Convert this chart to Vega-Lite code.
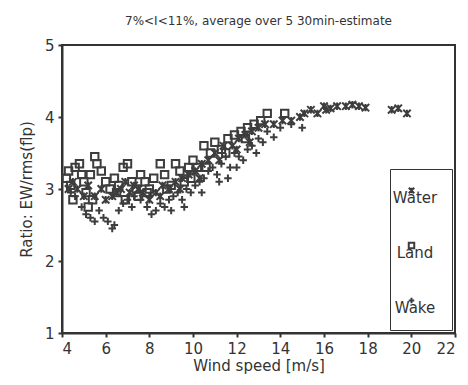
{
  "$schema": "https://vega.github.io/schema/vega-lite/v6.json",
  "width": 393,
  "height": 288,
  "autosize": "none",
  "padding": {"left": 62, "top": 45, "right": 13, "bottom": 52},
  "background": "white",
  "title": {"text": "7%<I<11%,  average over 5 30min-estimate", "font": "DejaVu Sans", "fontSize": 12, "fontWeight": "normal", "color": "#333", "offset": 10, "anchor": "middle"},
  "config": {
    "view": {"stroke": "#333", "strokeWidth": 2},
    "axis": {"grid": false, "domainColor": "#333", "domainWidth": 2, "tickColor": "#333", "tickWidth": 2, "tickSize": 4, "labelFont": "DejaVu Sans", "labelFontSize": 15, "labelColor": "#333", "titleFont": "DejaVu Sans", "titleFontSize": 15, "titleFontWeight": "normal", "titleColor": "#333"},
    "legend": {"symbolStrokeColor": "#3d3d3d", "symbolStrokeWidth": 2}
  },
  "data": {"values": [
    {"ws": 4.2, "r": 3.15, "type": "Land"}, {"ws": 4.3, "r": 3.25, "type": "Land"}, {"ws": 4.4, "r": 3.05, "type": "Land"}, {"ws": 4.6, "r": 3.3, "type": "Land"}, {"ws": 4.8, "r": 3.35, "type": "Land"}, {"ws": 4.9, "r": 3.2, "type": "Land"}, {"ws": 5.0, "r": 3.1, "type": "Land"}, {"ws": 5.1, "r": 2.95, "type": "Land"}, {"ws": 5.3, "r": 3.2, "type": "Land"}, {"ws": 5.5, "r": 3.45, "type": "Land"}, {"ws": 5.6, "r": 3.35, "type": "Land"}, {"ws": 5.8, "r": 3.25, "type": "Land"}, {"ws": 5.2, "r": 2.75, "type": "Land"}, {"ws": 5.4, "r": 2.85, "type": "Land"}, {"ws": 6.0, "r": 3.1, "type": "Land"}, {"ws": 6.2, "r": 3.0, "type": "Land"}, {"ws": 6.4, "r": 3.15, "type": "Land"}, {"ws": 6.6, "r": 3.05, "type": "Land"}, {"ws": 6.8, "r": 3.3, "type": "Land"}, {"ws": 7.0, "r": 3.35, "type": "Land"}, {"ws": 7.2, "r": 3.1, "type": "Land"}, {"ws": 7.4, "r": 3.0, "type": "Land"}, {"ws": 7.6, "r": 3.2, "type": "Land"}, {"ws": 7.8, "r": 3.1, "type": "Land"}, {"ws": 8.0, "r": 3.0, "type": "Land"}, {"ws": 8.2, "r": 3.15, "type": "Land"}, {"ws": 8.5, "r": 3.35, "type": "Land"}, {"ws": 8.7, "r": 3.2, "type": "Land"}, {"ws": 9.0, "r": 3.05, "type": "Land"}, {"ws": 9.2, "r": 3.35, "type": "Land"}, {"ws": 9.4, "r": 3.25, "type": "Land"}, {"ws": 9.6, "r": 3.1, "type": "Land"}, {"ws": 9.8, "r": 3.3, "type": "Land"}, {"ws": 10.0, "r": 3.4, "type": "Land"}, {"ws": 10.2, "r": 3.3, "type": "Land"}, {"ws": 10.5, "r": 3.6, "type": "Land"}, {"ws": 10.8, "r": 3.5, "type": "Land"}, {"ws": 11.0, "r": 3.65, "type": "Land"}, {"ws": 11.3, "r": 3.55, "type": "Land"}, {"ws": 11.6, "r": 3.7, "type": "Land"}, {"ws": 11.9, "r": 3.75, "type": "Land"}, {"ws": 12.2, "r": 3.8, "type": "Land"}, {"ws": 12.5, "r": 3.85, "type": "Land"}, {"ws": 12.8, "r": 3.9, "type": "Land"}, {"ws": 13.1, "r": 3.95, "type": "Land"}, {"ws": 13.4, "r": 4.05, "type": "Land"}, {"ws": 14.2, "r": 4.05, "type": "Land"}, {"ws": 6.9, "r": 2.85, "type": "Land"}, {"ws": 7.5, "r": 2.9, "type": "Land"}, {"ws": 4.5, "r": 2.85, "type": "Land"},
    {"ws": 6.5, "r": 2.95, "type": "Land"}, {"ws": 7.9, "r": 2.95, "type": "Land"}, {"ws": 8.8, "r": 3.0, "type": "Land"}, {"ws": 9.9, "r": 3.15, "type": "Land"}, {"ws": 10.6, "r": 3.3, "type": "Land"}, {"ws": 11.5, "r": 3.5, "type": "Land"}, {"ws": 12.4, "r": 3.7, "type": "Land"},
    {"ws": 4.4, "r": 2.95, "type": "Wake"}, {"ws": 4.6, "r": 2.9, "type": "Wake"}, {"ws": 4.9, "r": 2.75, "type": "Wake"}, {"ws": 5.1, "r": 2.65, "type": "Wake"}, {"ws": 5.3, "r": 2.6, "type": "Wake"}, {"ws": 5.5, "r": 2.55, "type": "Wake"}, {"ws": 5.7, "r": 2.7, "type": "Wake"}, {"ws": 5.9, "r": 2.6, "type": "Wake"}, {"ws": 6.1, "r": 2.55, "type": "Wake"}, {"ws": 6.3, "r": 2.45, "type": "Wake"}, {"ws": 6.4, "r": 2.5, "type": "Wake"}, {"ws": 6.6, "r": 2.7, "type": "Wake"}, {"ws": 6.8, "r": 2.8, "type": "Wake"}, {"ws": 7.0, "r": 2.85, "type": "Wake"}, {"ws": 7.3, "r": 2.9, "type": "Wake"}, {"ws": 7.6, "r": 2.85, "type": "Wake"}, {"ws": 7.9, "r": 2.75, "type": "Wake"}, {"ws": 8.1, "r": 2.65, "type": "Wake"}, {"ws": 8.3, "r": 2.7, "type": "Wake"}, {"ws": 8.5, "r": 2.8, "type": "Wake"}, {"ws": 8.7, "r": 2.75, "type": "Wake"}, {"ws": 8.9, "r": 2.85, "type": "Wake"}, {"ws": 9.1, "r": 2.9, "type": "Wake"}, {"ws": 9.3, "r": 2.95, "type": "Wake"}, {"ws": 9.5, "r": 2.85, "type": "Wake"}, {"ws": 9.7, "r": 3.0, "type": "Wake"}, {"ws": 9.9, "r": 2.95, "type": "Wake"}, {"ws": 10.1, "r": 3.05, "type": "Wake"}, {"ws": 10.3, "r": 3.1, "type": "Wake"}, {"ws": 10.5, "r": 3.15, "type": "Wake"}, {"ws": 10.7, "r": 3.25, "type": "Wake"}, {"ws": 10.9, "r": 3.3, "type": "Wake"}, {"ws": 11.1, "r": 3.2, "type": "Wake"}, {"ws": 11.3, "r": 3.35, "type": "Wake"}, {"ws": 11.5, "r": 3.45, "type": "Wake"}, {"ws": 11.7, "r": 3.3, "type": "Wake"}, {"ws": 11.9, "r": 3.5, "type": "Wake"}, {"ws": 12.1, "r": 3.45, "type": "Wake"}, {"ws": 12.3, "r": 3.4, "type": "Wake"}, {"ws": 12.5, "r": 3.55, "type": "Wake"}, {"ws": 12.7, "r": 3.6, "type": "Wake"}, {"ws": 13.0, "r": 3.7, "type": "Wake"}, {"ws": 13.2, "r": 3.65, "type": "Wake"}, {"ws": 13.4, "r": 3.8, "type": "Wake"}, {"ws": 13.7, "r": 3.72, "type": "Wake"}, {"ws": 14.0, "r": 3.85, "type": "Wake"}, {"ws": 14.5, "r": 3.9, "type": "Wake"}, {"ws": 15.0, "r": 3.85, "type": "Wake"}, {"ws": 11.2, "r": 3.1, "type": "Wake"}, {"ws": 12.0, "r": 3.3, "type": "Wake"},
    {"ws": 7.2, "r": 2.75, "type": "Wake"}, {"ws": 8.0, "r": 2.9, "type": "Wake"}, {"ws": 9.0, "r": 2.7, "type": "Wake"}, {"ws": 9.6, "r": 2.75, "type": "Wake"}, {"ws": 10.4, "r": 2.95, "type": "Wake"}, {"ws": 11.6, "r": 3.15, "type": "Wake"}, {"ws": 12.9, "r": 3.5, "type": "Wake"},
    {"ws": 4.3, "r": 3.0, "type": "Water"}, {"ws": 4.5, "r": 3.1, "type": "Water"}, {"ws": 4.7, "r": 3.0, "type": "Water"}, {"ws": 5.0, "r": 2.9, "type": "Water"}, {"ws": 5.2, "r": 3.05, "type": "Water"}, {"ws": 5.5, "r": 2.9, "type": "Water"}, {"ws": 5.8, "r": 3.0, "type": "Water"}, {"ws": 6.0, "r": 2.85, "type": "Water"}, {"ws": 6.3, "r": 2.9, "type": "Water"}, {"ws": 6.5, "r": 2.95, "type": "Water"}, {"ws": 6.7, "r": 3.0, "type": "Water"}, {"ws": 7.1, "r": 2.95, "type": "Water"}, {"ws": 7.3, "r": 3.05, "type": "Water"}, {"ws": 7.7, "r": 2.95, "type": "Water"}, {"ws": 8.0, "r": 2.85, "type": "Water"}, {"ws": 8.3, "r": 2.95, "type": "Water"}, {"ws": 8.6, "r": 3.05, "type": "Water"}, {"ws": 8.9, "r": 3.0, "type": "Water"}, {"ws": 9.2, "r": 3.1, "type": "Water"}, {"ws": 9.5, "r": 3.15, "type": "Water"}, {"ws": 9.8, "r": 3.2, "type": "Water"}, {"ws": 10.1, "r": 3.25, "type": "Water"}, {"ws": 10.4, "r": 3.35, "type": "Water"}, {"ws": 10.7, "r": 3.4, "type": "Water"}, {"ws": 11.0, "r": 3.5, "type": "Water"}, {"ws": 11.4, "r": 3.6, "type": "Water"}, {"ws": 11.8, "r": 3.6, "type": "Water"}, {"ws": 12.1, "r": 3.7, "type": "Water"}, {"ws": 12.4, "r": 3.75, "type": "Water"}, {"ws": 12.7, "r": 3.8, "type": "Water"}, {"ws": 13.0, "r": 3.85, "type": "Water"}, {"ws": 13.3, "r": 3.9, "type": "Water"}, {"ws": 13.7, "r": 3.9, "type": "Water"}, {"ws": 14.1, "r": 3.95, "type": "Water"}, {"ws": 14.5, "r": 3.95, "type": "Water"}, {"ws": 14.9, "r": 4.0, "type": "Water"}, {"ws": 15.1, "r": 4.05, "type": "Water"}, {"ws": 15.4, "r": 4.1, "type": "Water"}, {"ws": 15.7, "r": 4.05, "type": "Water"}, {"ws": 16.0, "r": 4.15, "type": "Water"}, {"ws": 16.3, "r": 4.12, "type": "Water"}, {"ws": 16.6, "r": 4.15, "type": "Water"}, {"ws": 17.0, "r": 4.15, "type": "Water"}, {"ws": 17.3, "r": 4.17, "type": "Water"}, {"ws": 17.6, "r": 4.15, "type": "Water"}, {"ws": 17.9, "r": 4.13, "type": "Water"}, {"ws": 19.1, "r": 4.1, "type": "Water"}, {"ws": 19.4, "r": 4.12, "type": "Water"}, {"ws": 19.8, "r": 4.05, "type": "Water"}, {"ws": 16.1, "r": 4.1, "type": "Water"},
    {"ws": 6.9, "r": 3.1, "type": "Water"}, {"ws": 7.5, "r": 3.0, "type": "Water"}, {"ws": 8.5, "r": 2.9, "type": "Water"}, {"ws": 9.4, "r": 3.0, "type": "Water"}, {"ws": 10.3, "r": 3.15, "type": "Water"}, {"ws": 11.2, "r": 3.4, "type": "Water"}, {"ws": 12.0, "r": 3.55, "type": "Water"}, {"ws": 12.6, "r": 3.65, "type": "Water"}
  ]},
  "mark": {"type": "point", "filled": false, "strokeWidth": 2, "color": "#3d3d3d", "opacity": 1, "size": 55},
  "encoding": {
    "x": {"field": "ws", "type": "quantitative", "scale": {"domain": [4, 22], "nice": false, "zero": false}, "axis": {"values": [4, 6, 8, 10, 12, 14, 16, 18, 20, 22], "title": "Wind speed [m/s]", "labelPadding": 4, "titlePadding": 2}},
    "y": {"field": "r", "type": "quantitative", "scale": {"domain": [1, 5], "nice": false, "zero": false}, "axis": {"values": [1, 2, 3, 4, 5], "title": "Ratio: EW/rms(flp)", "labelPadding": 4, "titlePadding": 10}},
    "shape": {"field": "type", "type": "nominal",
      "scale": {"domain": ["Water", "Land", "Wake"], "range": ["M-1,-1L1,1M-1,1L1,-1M0,-1L0,1", "square", "M-1,0L1,0M0,-1L0,1"]},
      "legend": {"title": null, "orient": "bottom-right", "offset": 3, "strokeColor": "#333", "fillColor": "white", "padding": 14, "labelFont": "DejaVu Sans", "labelFontSize": 15, "labelColor": "#333", "rowPadding": 32, "symbolSize": 30, "labelAlign": "center", "labelOffset": -4, "labelBaseline": "top"}
    }
  }
}
